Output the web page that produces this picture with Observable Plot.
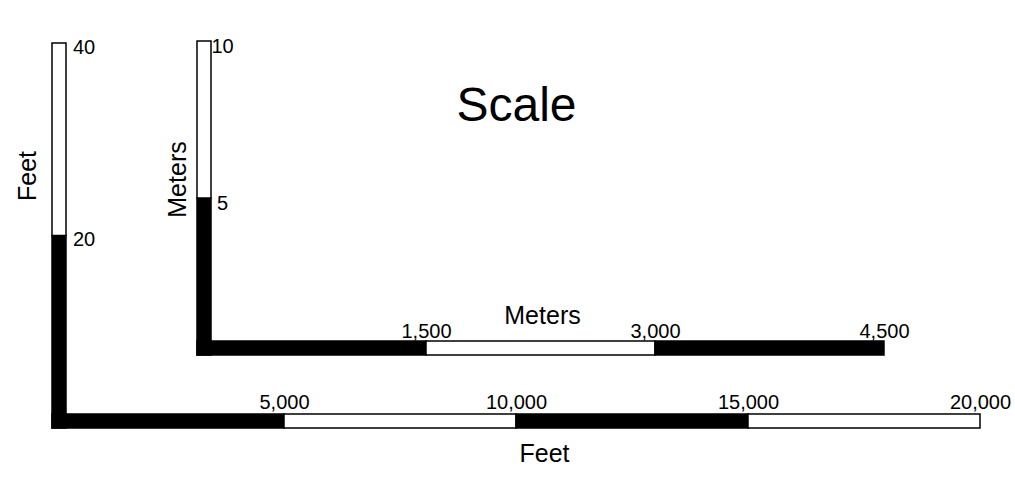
<!DOCTYPE html>
<html>
<head>
<meta charset="utf-8">
<script src="https://cdn.jsdelivr.net/npm/d3@7"></script>
<script src="https://cdn.jsdelivr.net/npm/@observablehq/plot@0.6"></script>
<style>
  html, body { margin: 0; padding: 0; background: white; }
  #wrap { position: relative; width: 1015px; height: 491px; }
  #wrap svg { position: absolute; left: 0; top: 0; }
</style>
</head>
<body>
<div id="wrap"></div>
<script>
// ---- data ----
const title = "Scale";
// Feet scale bar
const feetHorizontalBreaks = [0, 5000, 10000, 15000, 20000];
const feetHorizontalTicks = [5000, 10000, 15000, 20000];
const feetVerticalBreaks = [0, 20, 40];
const feetVerticalTicks = [20, 40];
const feetLabel = "Feet";
// Meters scale bar
const metersHorizontalBreaks = [0, 1500, 3000, 4500];
const metersHorizontalTicks = [1500, 3000, 4500];
const metersVerticalBreaks = [0, 5, 10];
const metersVerticalTicks = [5, 10];
const metersLabel = "Meters";

const FONT = "'Liberation Sans', Arial, Helvetica, sans-serif";
const W = 1015, H = 491, BAR = 14;

const segs = (breaks) => d3.pairs(breaks).map(([a, b], i) => ({a, b, i}));
const segFill = d => (d.i % 2 === 0 ? "black" : "white");
const fmt = d3.format(",");

function scaleBar({hBreaks, hTicks, vBreaks, vTicks, margins, hDy, vDx, vDy, extra}) {
  return Plot.plot({
    width: W,
    height: H,
    ...margins,
    x: {domain: [0, d3.max(hBreaks)], axis: null},
    y: {domain: [0, d3.max(vBreaks)], axis: null},
    color: {type: "identity"},
    style: {background: "transparent", fontFamily: FONT, overflow: "visible"},
    marks: [
      // vertical bar
      Plot.rect(segs(vBreaks), {
        x1: 0, x2: 0, y1: "a", y2: "b",
        insetRight: -BAR,
        fill: segFill, stroke: "black", strokeWidth: 1.5
      }),
      // horizontal bar
      Plot.rect(segs(hBreaks), {
        x1: "a", x2: "b", y1: 0, y2: 0,
        insetTop: -BAR,
        fill: segFill, stroke: "black", strokeWidth: 1.5
      }),
      // horizontal tick labels
      Plot.text(hTicks, {
        x: d => d, y: 0, text: d => fmt(d),
        textAnchor: "middle", lineAnchor: "bottom",
        dy: hDy, fontSize: 20, fill: "black"
      }),
      // vertical tick labels
      Plot.text(vTicks, {
        x: 0, y: d => d, text: d => fmt(d),
        textAnchor: "middle", lineAnchor: "middle",
        dx: vDx, dy: vDy, fontSize: 20, fill: "black"
      }),
      ...extra
    ]
  });
}

const feetPlot = scaleBar({
  hBreaks: feetHorizontalBreaks, hTicks: feetHorizontalTicks,
  vBreaks: feetVerticalBreaks, vTicks: feetVerticalTicks,
  margins: {marginLeft: 52, marginRight: W - 980, marginTop: 43, marginBottom: H - 428},
  hDy: -20, vDx: 31.5, vDy: 4,
  extra: [
    Plot.text([feetLabel], {frameAnchor: "bottom", text: d => d, lineAnchor: "bottom",
      dx: 28, dy: 33, fontSize: 25, fill: "black"}),
    Plot.text([feetLabel], {frameAnchor: "left", text: d => d, lineAnchor: "bottom",
      textAnchor: "middle", rotate: -90, dx: -17, dy: -60, fontSize: 25, fill: "black"}),
    Plot.text([title], {frameAnchor: "top", text: d => d, lineAnchor: "bottom",
      dx: 0, dy: 77, fontSize: 48, fill: "black"})
  ]
});

const metersPlot = scaleBar({
  hBreaks: metersHorizontalBreaks, hTicks: metersHorizontalTicks,
  vBreaks: metersVerticalBreaks, vTicks: metersVerticalTicks,
  margins: {marginLeft: 197, marginRight: W - 884, marginTop: 41, marginBottom: H - 355},
  hDy: -18, vDx: 25, vDy: 5,
  extra: [
    Plot.text([metersLabel], {frameAnchor: "bottom", text: d => d, lineAnchor: "bottom",
      dx: 1.5, dy: -32, fontSize: 25, fill: "black"}),
    Plot.text([metersLabel], {frameAnchor: "left", text: d => d, lineAnchor: "bottom",
      textAnchor: "middle", rotate: -90, dx: -12, dy: -19, fontSize: 25, fill: "black"})
  ]
});

for (const svg of [feetPlot, metersPlot]) {
  svg.style.background = "transparent";
  svg.style.fontFamily = FONT;
  document.getElementById("wrap").appendChild(svg);
}
</script>
</body>
</html>
